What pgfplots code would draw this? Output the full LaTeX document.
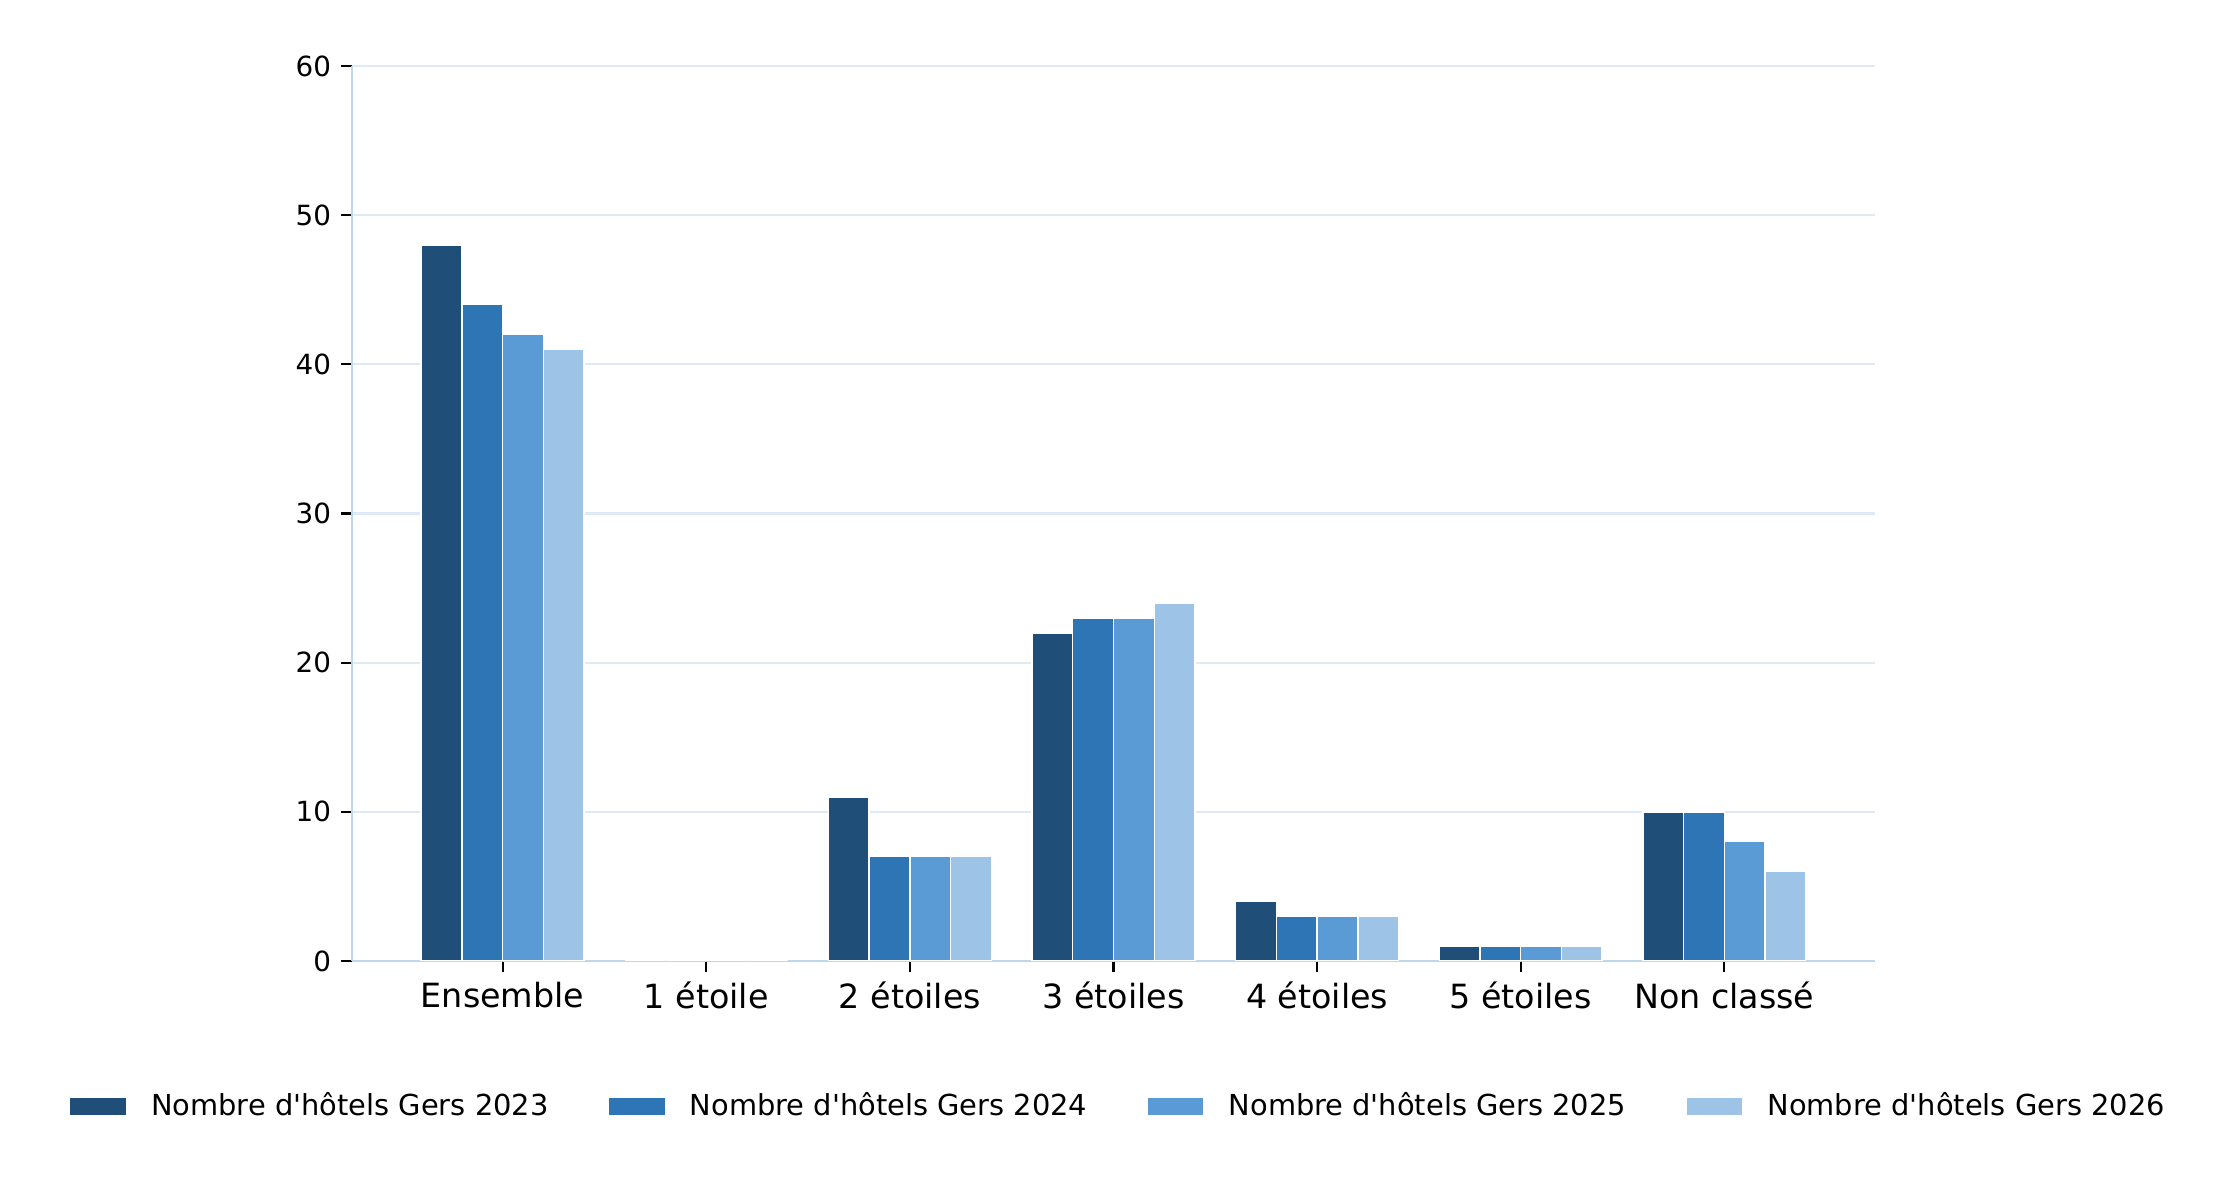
\documentclass[border=0pt]{standalone}
\usepackage{fontspec}
\setmainfont{DejaVu Sans}
\usepackage{pgfplots}
\pgfplotsset{compat=1.18}
\definecolor{c1}{HTML}{1F4E79}
\definecolor{c2}{HTML}{2E75B6}
\definecolor{c3}{HTML}{5B9BD5}
\definecolor{c4}{HTML}{9DC3E6}
\definecolor{spine}{HTML}{BDD7EE}
\definecolor{gridc}{HTML}{DEEBF7}
\pgfplotsset{layers/mylayers/.define layer set={axis background,axis grid,main,axis ticks,axis lines,axis tick labels,axis descriptions,axis foreground}{}}
\begin{document}
\begin{tikzpicture}
\begin{axis}[
  set layers=mylayers,
  at={(126.7pt,82.08pt)}, anchor=south west,
  scale only axis, width=548.3pt, height=322.2pt,
  xmin=-0.74, xmax=6.74, ymin=0, ymax=60,
  ybar=0pt, bar width=0.2,
  axis x line*=bottom, axis y line*=left,
  axis line style={spine, line width=1pt},
  xtick={0,...,6},
  xticklabels={Ensemble, 1 étoile, 2 étoiles, 3 étoiles, 4 étoiles, 5 étoiles, Non classé},
  ytick={0,10,...,60},
  tick align=outside, major tick length=4pt,
  tick style={black, line width=0.8pt},
  ymajorgrids, grid style={gridc, line width=0.8pt},
  x tick label style={font=\fontsize{12}{14}\selectfont},
  y tick label style={font=\fontsize{10}{12}\selectfont},
  /pgf/number format/assume math mode=true,
  legend columns=4,
  legend image code/.code={\fill[#1] (0pt,-3.3pt) rectangle (20.5pt,3.3pt);},
  legend style={draw=none, fill=none, at={(-0.1858,-0.1626)}, anchor=west,
    inner sep=0pt, outer sep=0pt,
    nodes={inner sep=0pt, anchor=west, font=\fontsize{10.4}{12}\selectfont},
    /tikz/every odd column/.append style={column sep=8.6pt},
    /tikz/every even column/.append style={column sep=21.3pt}},
]
\addplot[fill=c1, draw=white, line width=0.5pt] coordinates {(0,48) (1,0) (2,11) (3,22) (4,4) (5,1) (6,10)};
\addplot[fill=c2, draw=white, line width=0.5pt] coordinates {(0,44) (1,0) (2,7) (3,23) (4,3) (5,1) (6,10)};
\addplot[fill=c3, draw=white, line width=0.5pt] coordinates {(0,42) (1,0) (2,7) (3,23) (4,3) (5,1) (6,8)};
\addplot[fill=c4, draw=white, line width=0.5pt] coordinates {(0,41) (1,0) (2,7) (3,24) (4,3) (5,1) (6,6)};
\legend{Nombre d\textquotesingle hôtels Gers 2023, Nombre d\textquotesingle hôtels Gers 2024, Nombre d\textquotesingle hôtels Gers 2025, Nombre d\textquotesingle hôtels Gers 2026}
\end{axis}
\path (0,0) rectangle (802.44pt,428.04pt);
\end{tikzpicture}
\end{document}
